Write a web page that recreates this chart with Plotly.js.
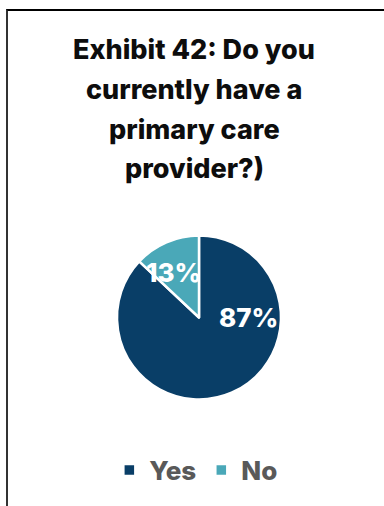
<!DOCTYPE html>
<html>
<head>
<meta charset="utf-8">
<script src="https://cdn.plot.ly/plotly-3.0.1.min.js"></script>
<style>
  html, body { margin: 0; padding: 0; background: #ffffff; }
  #wrap { position: relative; width: 384px; height: 506px; overflow: hidden; }
  #frame { position: absolute; left: 6px; top: 9px; width: 400px; height: 520px;
           border-top: 2px solid #000; border-left: 2px solid #333; box-sizing: border-box; pointer-events: none; }
  #chart { position: absolute; left: 0; top: 0; width: 384px; height: 506px; }
</style>
</head>
<body>
<div id="wrap">
  <div id="chart"></div>
  <div id="frame"></div>
</div>
<script>
const titleLines = ["Exhibit 42: Do you", "currently have a", "primary care", "provider?)"];
const categories = ["Yes", "No"];
const values = [87, 13];
const colors = ["#093E67", "#4AA8B8"];
const labelPos = [[0.646, 0.373], [0.453, 0.462]];

const total = values.reduce((a, b) => a + b, 0);
const pctText = values.map(v => Math.round(v / total * 100) + "%");

const trace = {
  type: "pie",
  labels: categories,
  values: values,
  sort: false,
  direction: "clockwise",
  rotation: 0,
  marker: { colors: colors, line: { color: "#ffffff", width: 2.5 } },
  textinfo: "none",
  hoverinfo: "label+percent",
  domain: { x: [117/384, 281/384], y: [1 - 400/506, 1 - 235/506] },
  showlegend: true
};

const titleY = [50, 90, 129, 168];
const annotations = titleLines.map((t, i) => ({
  text: t,
  xref: "paper", yref: "paper",
  x: 194/384, y: 1 - titleY[i]/506,
  xanchor: "center", yanchor: "middle",
  showarrow: false,
  font: { family: "Inter, 'Open Sans', sans-serif", size: 27, color: "#0d0d0d", weight: 800 }
}));
pctText.forEach((t, i) => annotations.push({
  text: t,
  xref: "paper", yref: "paper",
  x: labelPos[i][0], y: labelPos[i][1],
  xanchor: "center", yanchor: "middle",
  showarrow: false,
  font: { family: "Inter, 'Open Sans', sans-serif", size: 26, color: "#ffffff", weight: 800 }
}));

const layout = {
  width: 384, height: 506,
  margin: { l: 0, r: 0, t: 0, b: 0 },
  paper_bgcolor: "#ffffff",
  plot_bgcolor: "#ffffff",
  showlegend: true,
  legend: {
    orientation: "h",
    x: 0.51, xanchor: "center",
    y: 1 - 470/506, yanchor: "middle",
    font: { family: "Inter, 'Open Sans', sans-serif", size: 26, color: "#595959", weight: 800 },
    itemwidth: 30,
    traceorder: "normal"
  },
  annotations: annotations
};

Plotly.newPlot("chart", [trace], layout, { displayModeBar: false, staticPlot: true });
</script>
</body>
</html>
